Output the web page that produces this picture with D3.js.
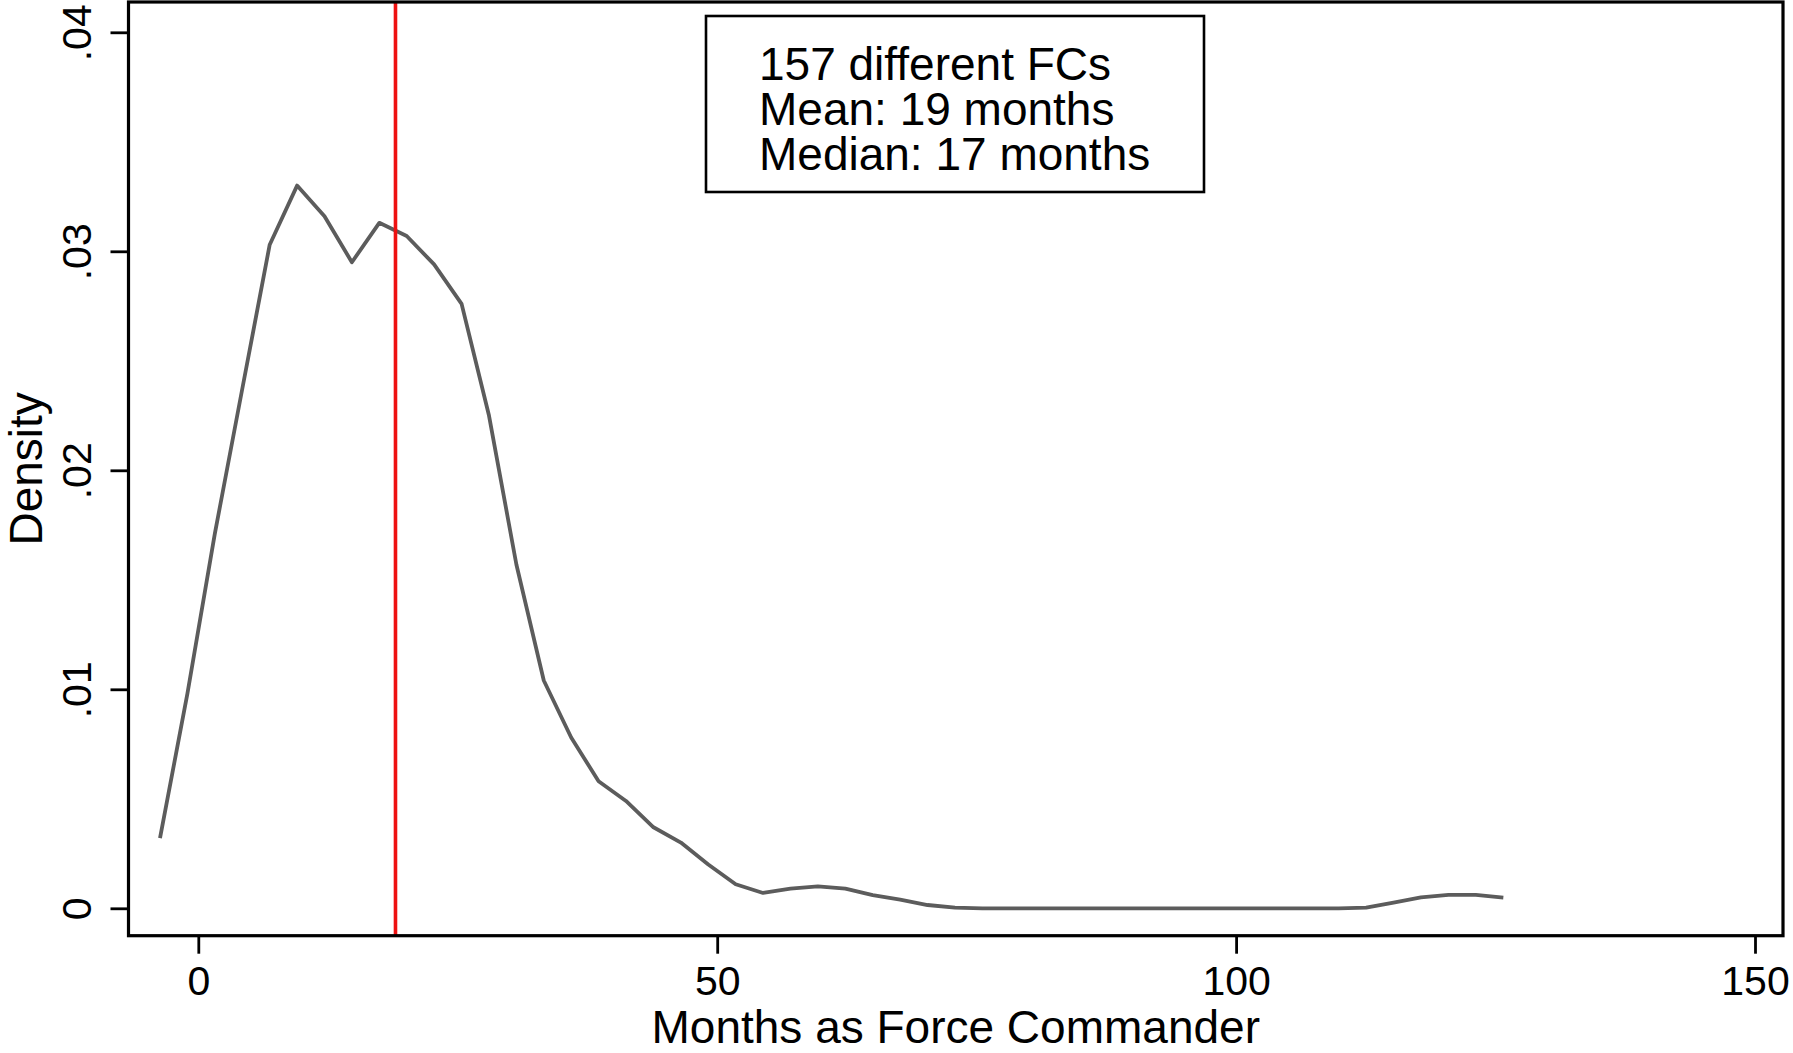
<!DOCTYPE html>
<html>
<head>
<meta charset="utf-8">
<script src="https://cdn.jsdelivr.net/npm/d3@7"></script>
<style>
  html, body { margin: 0; padding: 0; background: #fff; }
  svg { display: block; }
  text { font-family: "Liberation Sans", Arial, Helvetica, sans-serif; fill: #000; }
</style>
</head>
<body>
<svg id="chart" width="1793" height="1053"></svg>
<script>
// Kernel density estimate of tenure (months) as Force Commander
const months = [-3.69, -1.05, 1.59, 4.23, 6.88, 9.52, 12.16, 14.80, 17.44, 20.08,
  22.72, 25.37, 28.01, 30.65, 33.29, 35.93, 38.57, 41.21, 43.86, 46.50,
  49.14, 51.78, 54.42, 57.06, 59.70, 62.35, 64.99, 67.63, 70.27, 72.91,
  75.55, 78.19, 80.84, 83.48, 86.12, 88.76, 91.40, 94.04, 96.68, 99.33,
  101.97, 104.61, 107.25, 109.89, 112.53, 115.17, 117.81, 120.46, 123.10, 125.75];
const density = [0.0032, 0.0098, 0.0171, 0.0237, 0.0303, 0.0330, 0.0316, 0.0295, 0.0313, 0.0307,
  0.0294, 0.0276, 0.0225, 0.0157, 0.0104, 0.0078, 0.0058, 0.0049, 0.0037, 0.0030,
  0.0020, 0.0011, 0.0007, 0.0009, 0.0010, 0.0009, 0.0006, 0.0004, 0.00015, 0.00003,
  0, 0, 0, 0, 0, 0, 0, 0, 0, 0,
  0, 0, 0, 0, 0.00003, 0.00026, 0.0005, 0.00061, 0.00061, 0.00049];

const meanMonths = 19;
const xTicks = [0, 50, 100, 150];
const yTicks = [0, 0.01, 0.02, 0.03, 0.04];
const yTickLabels = ["0", ".01", ".02", ".03", ".04"];
const noteLines = ["157 different FCs", "Mean: 19 months", "Median: 17 months"];
const xTitle = "Months as Force Commander";
const yTitle = "Density";

const svg = d3.select("#chart");
const frame = { left: 128.5, right: 1783, top: 2, bottom: 935.7 };

const x = d3.scaleLinear().domain([0, 150]).range([198.3, 1755]);
const y = d3.scaleLinear().domain([0, 0.04]).range([908.3, 32.3]);

svg.append("rect").attr("width", 1793).attr("height", 1053).attr("fill", "#fff");

// Density curve
const pts = months.map((m, i) => [m, density[i]]);
svg.append("path")
  .datum(pts)
  .attr("fill", "none")
  .attr("stroke", "#5c5c5c")
  .attr("stroke-width", 3.8)
  .attr("stroke-linejoin", "round")
  .attr("d", d3.line().x(d => x(d[0])).y(d => y(d[1])));

// Mean reference line
svg.append("line")
  .attr("x1", x(meanMonths)).attr("x2", x(meanMonths))
  .attr("y1", frame.top).attr("y2", frame.bottom)
  .attr("stroke", "#ee1111").attr("stroke-width", 3.6);

// Plot frame
svg.append("rect")
  .attr("x", frame.left).attr("y", frame.top)
  .attr("width", frame.right - frame.left).attr("height", frame.bottom - frame.top)
  .attr("fill", "none").attr("stroke", "#000").attr("stroke-width", 3.2);

// X axis
const xAxis = d3.axisBottom(x).tickValues(xTicks).tickSize(18).tickPadding(12).tickFormat(d3.format("d"));
const gx = svg.append("g").attr("transform", `translate(0,${frame.bottom})`).call(xAxis);
gx.select(".domain").remove();
gx.selectAll(".tick line").attr("stroke", "#000").attr("stroke-width", 2.8);
gx.selectAll(".tick text").attr("font-size", 41).attr("font-family", "Liberation Sans, Arial, sans-serif").attr("fill", "#000");

// Y axis with rotated labels
const yAxis = d3.axisLeft(y).tickValues(yTicks).tickSize(18).tickFormat((d, i) => yTickLabels[i]);
const gy = svg.append("g").attr("transform", `translate(${frame.left},0)`).call(yAxis);
gy.select(".domain").remove();
gy.selectAll(".tick line").attr("stroke", "#000").attr("stroke-width", 2.8);
gy.selectAll(".tick text")
  .attr("font-size", 41).attr("font-family", "Liberation Sans, Arial, sans-serif").attr("fill", "#000")
  .attr("x", null).attr("dy", null)
  .attr("text-anchor", "middle")
  .attr("transform", `translate(-38,0) rotate(-90)`);

// Axis titles
svg.append("text")
  .attr("x", (frame.left + frame.right) / 2).attr("y", 1043)
  .attr("text-anchor", "middle").attr("font-size", 46)
  .text(xTitle);
svg.append("text")
  .attr("transform", `translate(42,${(frame.top + frame.bottom) / 2}) rotate(-90)`)
  .attr("text-anchor", "middle").attr("font-size", 46)
  .text(yTitle);

// Summary note box
svg.append("rect")
  .attr("x", 706).attr("y", 16).attr("width", 498).attr("height", 176)
  .attr("fill", "#fff").attr("stroke", "#000").attr("stroke-width", 2.6);
svg.append("text")
  .attr("font-size", 46)
  .selectAll("tspan").data(noteLines).join("tspan")
  .attr("x", 759).attr("y", (d, i) => 80 + i * 45)
  .text(d => d);
</script>
</body>
</html>
